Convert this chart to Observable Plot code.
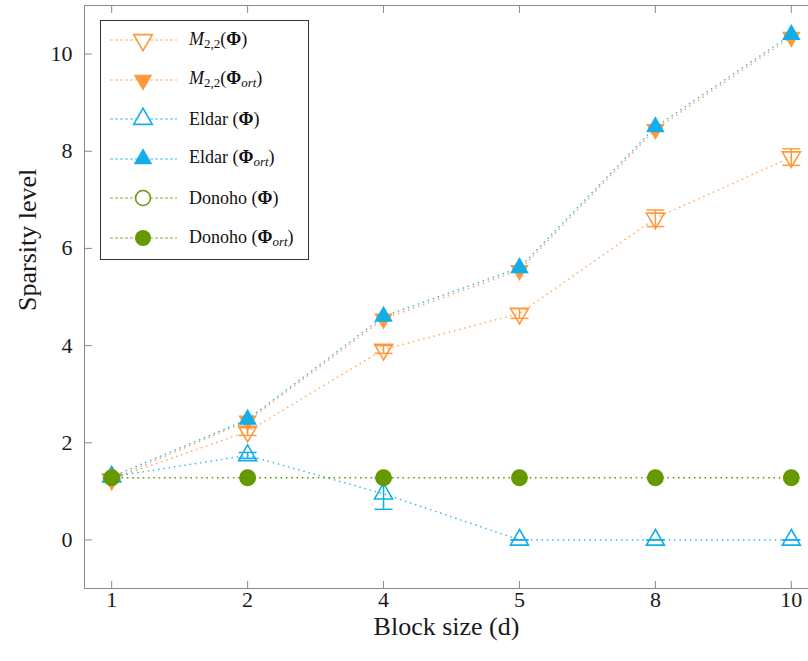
<!DOCTYPE html>
<html>
<head>
<meta charset="utf-8">
<script src="https://cdn.jsdelivr.net/npm/d3@7"></script>
<script src="https://cdn.jsdelivr.net/npm/@observablehq/plot@0.6"></script>
<style>
  body { margin: 0; background: white; }
  #wrap { position: relative; width: 808px; height: 661px; overflow: hidden; background: white; }
  #chart svg { max-width: none !important; }
  #legend { position: absolute; left: 100px; top: 20px; width: 209px; height: 240px; border: 1px solid #333; background: white; box-sizing: border-box; font-family: "Liberation Serif", serif; font-size: 18px; color: #111; }
  .row { position: absolute; left: 0; height: 24px; display: flex; align-items: center; }
  .row svg { display: block; }
  .row span { margin-left: 8px; white-space: nowrap; }
  sub { font-size: 13px; vertical-align: -3px; }
</style>
</head>
<body>
<div id="wrap"><div id="chart"></div><div id="legend"></div></div>
<script>
// ---- data ----
const blockSizes = [1, 2, 4, 5, 8, 10];
const yTicks = [0, 2, 4, 6, 8, 10];
const m22Phi    = [1.25, 2.23, 3.92, 4.66, 6.62, 7.88];
const m22PhiErr = [0.05, 0.08, 0.08, 0.1, 0.17, 0.17];
const m22Ort    = [1.25, 2.45, 4.55, 5.55, 8.45, 10.35];
const eldarPhi    = [1.3, 1.74, 0.95, 0, 0, 0];
const eldarPhiErr = [0.04, 0.06, 0.32, 0, 0, 0];
const eldarOrt  = [1.3, 2.48, 4.6, 5.6, 8.5, 10.4];
const donohoPhi = [1.28, 1.28, 1.28, 1.28, 1.28, 1.28];
const donohoOrt = [1.28, 1.28, 1.28, 1.28, 1.28, 1.28];

const ORANGE = "#ff9a3c", BLUE = "#13aeea", GREEN = "#669900";

const rows = (vals, err) => blockSizes.map((b, i) => ({
  x: b, y: vals[i],
  lo: err ? vals[i] - err[i] : vals[i], hi: err ? vals[i] + err[i] : vals[i]
}));
const dM22Phi = rows(m22Phi, m22PhiErr);
const dM22Ort = rows(m22Ort);
const dEldarPhi = rows(eldarPhi, eldarPhiErr);
const dEldarOrt = rows(eldarOrt);
const dDonPhi = rows(donohoPhi);
const dDonOrt = rows(donohoOrt);

const capSymbol = { draw(ctx) { ctx.moveTo(-9, 0); ctx.lineTo(9, 0); } };
const dotted = { strokeWidth: 1.6, strokeDasharray: "0.1 5.2", strokeLinecap: "round" };

const line = (d, c) => Plot.line(d, { x: "x", y: "y", stroke: c, strokeOpacity: 0.85, ...dotted });
const errs = (d, c) => [
  Plot.ruleX(d, { x: "x", y1: "lo", y2: "hi", stroke: c, strokeWidth: 1.5 }),
  Plot.dot(d, { x: "x", y: "lo", symbol: capSymbol, stroke: c, strokeWidth: 1.5, fill: "none" }),
  Plot.dot(d, { x: "x", y: "hi", symbol: capSymbol, stroke: c, strokeWidth: 1.5, fill: "none" })
];

const chart = Plot.plot({
  width: 818, height: 661,
  marginLeft: 84, marginRight: 0, marginTop: 5, marginBottom: 73,
  style: { fontFamily: "Liberation Serif, serif", fontSize: "22px", color: "#1a1a1a", background: "white", maxWidth: "none" },
  x: { type: "point", domain: blockSizes, padding: 0.2, round: false },
  y: { domain: [-1, 11] },
  marks: [
    Plot.frame({ stroke: "#8a8a8a" }),
    Plot.axisY({ ticks: yTicks, tickSize: -8, tickPadding: 20, stroke: "#8a8a8a", label: null, fontSize: 22 }),
    Plot.axisX({ anchor: "bottom", tickSize: -7, tickPadding: 10, stroke: "#8a8a8a", label: null, fontSize: 22 }),
    Plot.axisX({ anchor: "top", tickSize: -7, stroke: "#8a8a8a", label: null, tickFormat: () => "" }),
    line(dM22Phi, ORANGE), line(dM22Ort, ORANGE),
    line(dEldarPhi, BLUE), line(dEldarOrt, BLUE),
    line(dDonPhi, GREEN), line(dDonOrt, GREEN),
    ...errs(dM22Phi, ORANGE),
    Plot.dot(dM22Phi, { x: "x", y: "y", symbol: "triangle", rotate: 180, r: 6.7, stroke: ORANGE, strokeWidth: 1.6, fill: "none" }),
    Plot.dot(dM22Ort, { x: "x", y: "y", symbol: "triangle", rotate: 180, r: 6.9, fill: ORANGE }),
    ...errs(dEldarPhi, BLUE),
    Plot.dot(dEldarPhi, { x: "x", y: "y", symbol: "triangle", r: 6.7, stroke: BLUE, strokeWidth: 1.6, fill: "none" }),
    Plot.dot(dEldarOrt, { x: "x", y: "y", symbol: "triangle", r: 6.9, fill: BLUE }),
    Plot.dot(dDonPhi, { x: "x", y: "y", r: 7.5, stroke: GREEN, strokeWidth: 1.8, fill: "none" }),
    Plot.dot(dDonOrt, { x: "x", y: "y", r: 8, fill: GREEN }),
    Plot.text(["Block size (d)"], { frameAnchor: "bottom", dx: -5, dy: 38, fontSize: 26, lineAnchor: "middle", fill: "#1a1a1a" }),
    Plot.text(["Sparsity level"], { frameAnchor: "left", rotate: -90, dx: -57, dy: 14, fontSize: 26, lineAnchor: "middle", fill: "#1a1a1a" })
  ]
});
document.getElementById("chart").appendChild(chart);

// ---- legend ----
const legendItems = [
  { html: "<i>M</i><sub>2,2</sub>(<b>Φ</b>)", color: ORANGE, sym: "down", filled: false },
  { html: "<i>M</i><sub>2,2</sub>(<b>Φ</b><sub><i>ort</i></sub>)", color: ORANGE, sym: "down", filled: true },
  { html: "Eldar (<b>Φ</b>)", color: BLUE, sym: "up", filled: false },
  { html: "Eldar (<b>Φ</b><sub><i>ort</i></sub>)", color: BLUE, sym: "up", filled: true },
  { html: "Donoho (<b>Φ</b>)", color: GREEN, sym: "circle", filled: false },
  { html: "Donoho (<b>Φ</b><sub><i>ort</i></sub>)", color: GREEN, sym: "circle", filled: true }
];
const legend = document.getElementById("legend");
legendItems.forEach((it, i) => {
  const row = document.createElement("div");
  row.className = "row";
  row.style.top = (7 + i * 39.6) + "px";
  const svg = d3.create("svg").attr("width", 80).attr("height", 24);
  svg.append("line").attr("x1", 9).attr("x2", 76).attr("y1", 12).attr("y2", 12)
    .attr("stroke", it.color).attr("stroke-opacity", 0.8).attr("stroke-width", 1).attr("stroke-dasharray", "3 2");
  const sym = it.sym === "circle" ? d3.symbolCircle : d3.symbolTriangle;
  const size = it.sym === "circle" ? Math.PI * (it.filled ? 64 : 56) : 150;
  svg.append("path").attr("d", d3.symbol(sym, size)())
    .attr("transform", `translate(42,12) rotate(${it.sym === "down" ? 180 : 0})`)
    .attr("fill", it.filled ? it.color : "white")
    .attr("stroke", it.filled ? "none" : it.color).attr("stroke-width", 1.6);
  row.appendChild(svg.node());
  const span = document.createElement("span");
  span.innerHTML = it.html;
  row.appendChild(span);
  legend.appendChild(row);
});
</script>
</body>
</html>
